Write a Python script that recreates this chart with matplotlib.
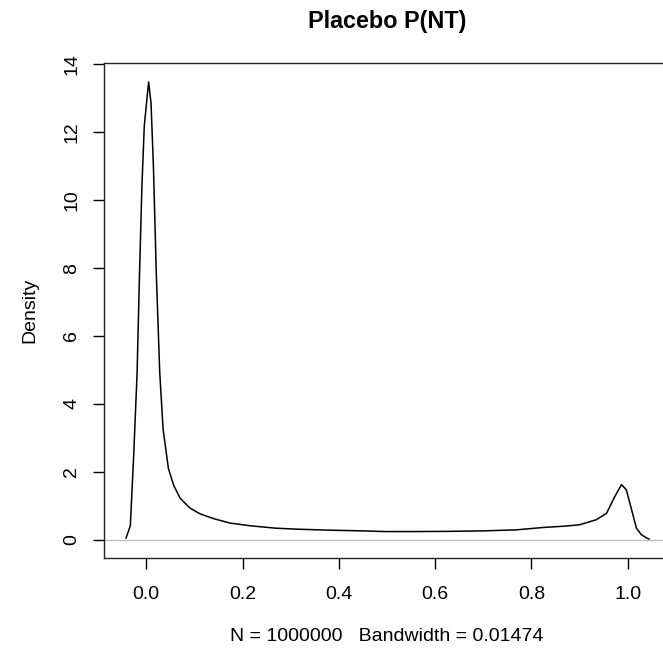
import matplotlib
matplotlib.use("Agg")
import matplotlib.pyplot as plt

plt.rcParams["font.family"] = ["Liberation Sans", "DejaVu Sans"]

# Density curve
x_vals = [-0.042, -0.033, -0.026, -0.019, -0.014, -0.009, -0.004, 0.005, 0.010,
          0.015, 0.021, 0.028, 0.035, 0.046, 0.057, 0.0705, 0.091, 0.112, 0.14,
          0.174, 0.216, 0.268, 0.313, 0.382, 0.45, 0.496, 0.56, 0.624, 0.70,
          0.769, 0.824, 0.87, 0.90, 0.935, 0.956, 0.973, 0.987, 0.997, 1.008,
          1.018, 1.028, 1.039, 1.044]
density = [0.05, 0.41, 2.5, 4.9, 7.8, 10.4, 12.2, 13.48, 12.85,
           10.96, 7.8, 4.94, 3.26, 2.1, 1.6, 1.22, 0.93, 0.76, 0.62,
           0.49, 0.41, 0.34, 0.31, 0.28, 0.26, 0.24, 0.24, 0.245, 0.26,
           0.29, 0.36, 0.40, 0.44, 0.59, 0.78, 1.27, 1.62, 1.47, 0.88,
           0.34, 0.15, 0.05, 0.02]

x_ticks = [0.0, 0.2, 0.4, 0.6, 0.8, 1.0]
y_ticks = [0, 2, 4, 6, 8, 10, 12, 14]

fig = plt.figure(figsize=(6.63, 6.51), dpi=100)
# the plot box runs a little past the right edge of the image
ax = fig.add_axes([104 / 663, 93 / 651, 566 / 663, 495 / 651])

ax.axhline(0, color="#bebebe", lw=1.0)
ax.plot(x_vals, density, color="black", lw=1.1)

ax.set_xlim(-0.0877, 1.0877)
ax.set_ylim(-0.539, 14.04)

ax.set_xticks(x_ticks)
ax.set_xticklabels([f"{t:.1f}" for t in x_ticks])
ax.set_yticks(y_ticks)
ax.set_yticklabels([str(t) for t in y_ticks], rotation=90, va="center")
ax.tick_params(direction="out", length=8, width=1, labelsize=14, pad=12)
ax.tick_params(axis="y", pad=9)

for s in ax.spines.values():
    s.set_linewidth(1.0)
    s.set_color("#222222")

ax.set_title("Placebo P(NT)", fontsize=16.8, fontweight="bold", pad=25)
ax.set_xlabel("N = 1000000   Bandwidth = 0.01474", fontsize=14, labelpad=18)
ax.set_ylabel("Density", fontsize=14, labelpad=18)

plt.savefig("out.png", dpi=100)
